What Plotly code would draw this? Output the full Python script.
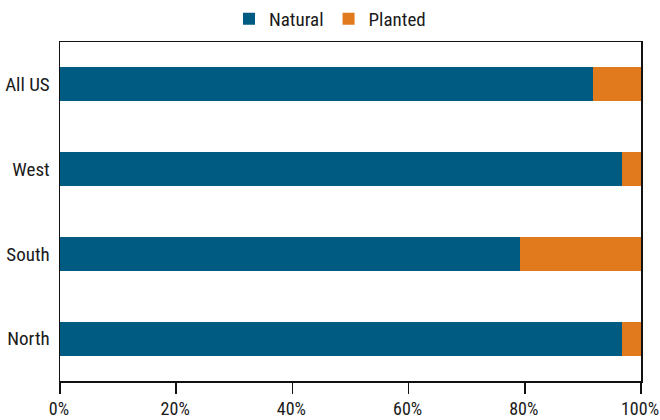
import plotly.graph_objects as go

regions = ["North", "South", "West", "All US"]
natural = [96.7, 79.2, 96.7, 91.8]
planted = [3.3, 20.8, 3.3, 8.2]
tick_vals = [0, 20, 40, 60, 80, 100]
tick_text = ["0%", "20%", "40%", "60%", "80%", "100%"]

FONT = "Roboto Condensed, Arial Narrow, DejaVu Sans Condensed, sans-serif"
fig = go.Figure()
fig.add_trace(go.Bar(y=regions, x=natural, name="Natural", orientation="h",
                     marker=dict(color="#005B82", line=dict(width=0))))
fig.add_trace(go.Bar(y=regions, x=planted, name="Planted", orientation="h",
                     marker=dict(color="#E07A1D", line=dict(width=0))))

fig.update_layout(
    barmode="stack", bargap=0.6,
    width=660, height=420,
    margin=dict(l=60, r=19, t=42, b=39, autoexpand=False),
    paper_bgcolor="white", plot_bgcolor="white",
    font=dict(family=FONT, size=19, color="#1a1a1a"),
    legend=dict(orientation="h", x=0.5, xanchor="center", xref="container",
                y=0.955, yanchor="middle", yref="container",
                font=dict(size=19), bgcolor="rgba(0,0,0,0)",
                itemwidth=30, traceorder="normal"),
    xaxis=dict(range=[0, 100], tickvals=tick_vals, ticktext=tick_text,
               showgrid=False, zeroline=False, showline=True, linecolor="#111",
               linewidth=1.5, mirror=True, ticks="outside", ticklen=11,
               tickcolor="#111", tickwidth=1.5, fixedrange=True, automargin=False,
               tickfont=dict(size=18), ticklabelshift=-1),
    yaxis=dict(showgrid=False, zeroline=False, showline=True, linecolor="#111",
               linewidth=1.5, mirror=True, ticks="", ticklabelstandoff=5,
               fixedrange=True, automargin=False),
)
fig.write_html(
    "out.html",
    config={"displayModeBar": False, "staticPlot": True},
    post_script="document.body.style.margin='0';document.body.style.overflow='hidden';",
)
